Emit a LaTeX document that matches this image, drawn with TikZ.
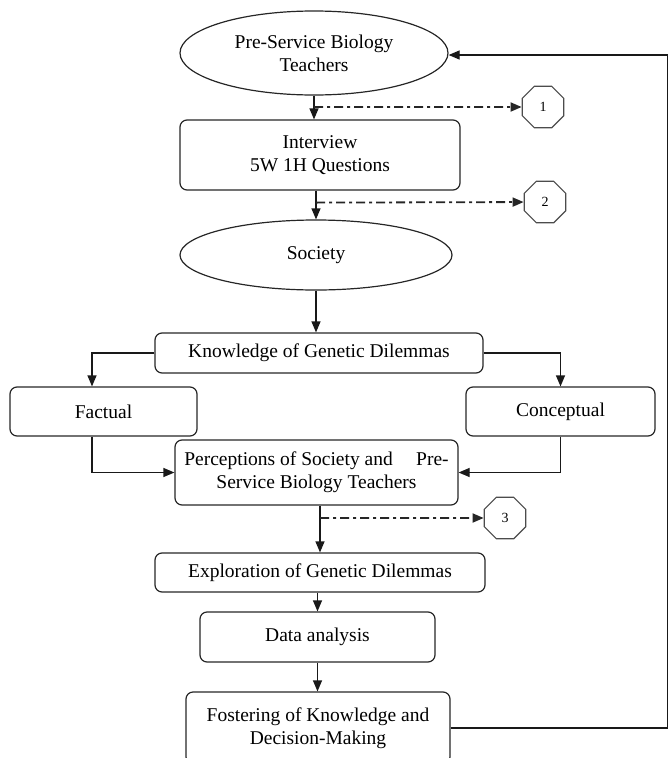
\documentclass[tikz,border=0pt]{standalone}
\usepackage{fontspec}
\setmainfont{Liberation Serif}
\usetikzlibrary{shapes.geometric,arrows.meta}

\begin{document}
\begin{tikzpicture}[x=1pt, y=-1pt,
        every node/.style={font=\fontsize{19.5}{23}\selectfont, align=center, line width=1.2pt, draw=black!85},
        ellip/.style={ellipse, draw},
        rbox/.style={rectangle, rounded corners=7pt, draw},
        octa/.style={regular polygon, regular polygon sides=8, minimum size=45pt, inner sep=0pt, draw=black!70, font=\fontsize{14}{16}\selectfont},
        arr/.style={-{Triangle[length=11pt,width=9pt]}, line width=1.2pt, black!90},
        ddash/.style={-{Triangle[length=11pt,width=9pt]}, line width=1.8pt, black!85, dash pattern=on 9pt off 4pt on 3pt off 4pt}]
        \useasboundingbox (0,0) rectangle (668,758);

        \node[ellip, minimum width=268pt, minimum height=84pt] (pst) at (314,53) {Pre-Service Biology\\Teachers};
        \node[rbox, minimum width=280pt, minimum height=70pt] (intv) at (320,155) {Interview\\5W 1H Questions};
        \node[ellip, minimum width=272pt, minimum height=70pt] (soc) at (316,255) {Society};
        \node[rbox, minimum width=328pt, minimum height=40pt] (know) at (319,353) {Knowledge of Genetic Dilemmas};
        \node[rbox, minimum width=187pt, minimum height=49pt] (fact) at (103.5,411.5) {Factual};
        \node[rbox, minimum width=189pt, minimum height=49pt] (conc) at (560.5,411.5) {Conceptual};
        \node[rbox, minimum width=283pt, minimum height=65pt] (perc) at (316.5,472.5) {Perceptions of Society and\hspace{1.2em}Pre-\\Service Biology Teachers};
        \node[rbox, minimum width=330pt, minimum height=39pt] (expl) at (320,572.5) {Exploration of Genetic Dilemmas};
        \node[rbox, minimum width=235pt, minimum height=50pt] (data) at (317.5,637) {Data analysis};
        \node[rbox, minimum width=264pt, minimum height=72pt] (fost) at (318,728) {Fostering of Knowledge and\\Decision-Making};

        \node[octa] (o1) at (543,107) {1};
        \node[octa] (o2) at (545,202) {2};
        \node[octa] (o3) at (505,518) {3};
        \coordinate (rt) at (668,0);

        \draw[arr] (pst.south) -- (pst.south |- intv.north);
        \draw[ddash] (pst.south |- o1) -- (o1);
        \draw[arr] (intv.south -| soc.north) -- (soc.north);
        \draw[ddash] (intv.south -| soc.north) ++(0,12) -- (o2);
        \draw[arr] (soc.south) -- (soc.south |- know.north);
        \draw[arr] (know.west) -| ([xshift=-11.5pt]fact.north);
        \draw[arr] (know.east) -| (conc.north);
        \draw[arr] ([xshift=-11.5pt]fact.south) |- (perc.west);
        \draw[arr] (conc.south) |- (perc.east);
        \draw[arr] ([xshift=3.5pt]perc.south) -- ([xshift=3.5pt]perc.south |- expl.north);
        \draw[ddash] ([xshift=3.5pt]perc.south |- o3) -- (o3);
        \draw[arr] (expl.south -| data.north) -- (data.north);
        \draw[arr] (data.south) -- (data.south |- fost.north);
        \draw[arr] (fost.east) -- (fost.east -| rt) -- (rt |- 0,55) -- (pst.east |- 0,55);
\end{tikzpicture}
\end{document}
